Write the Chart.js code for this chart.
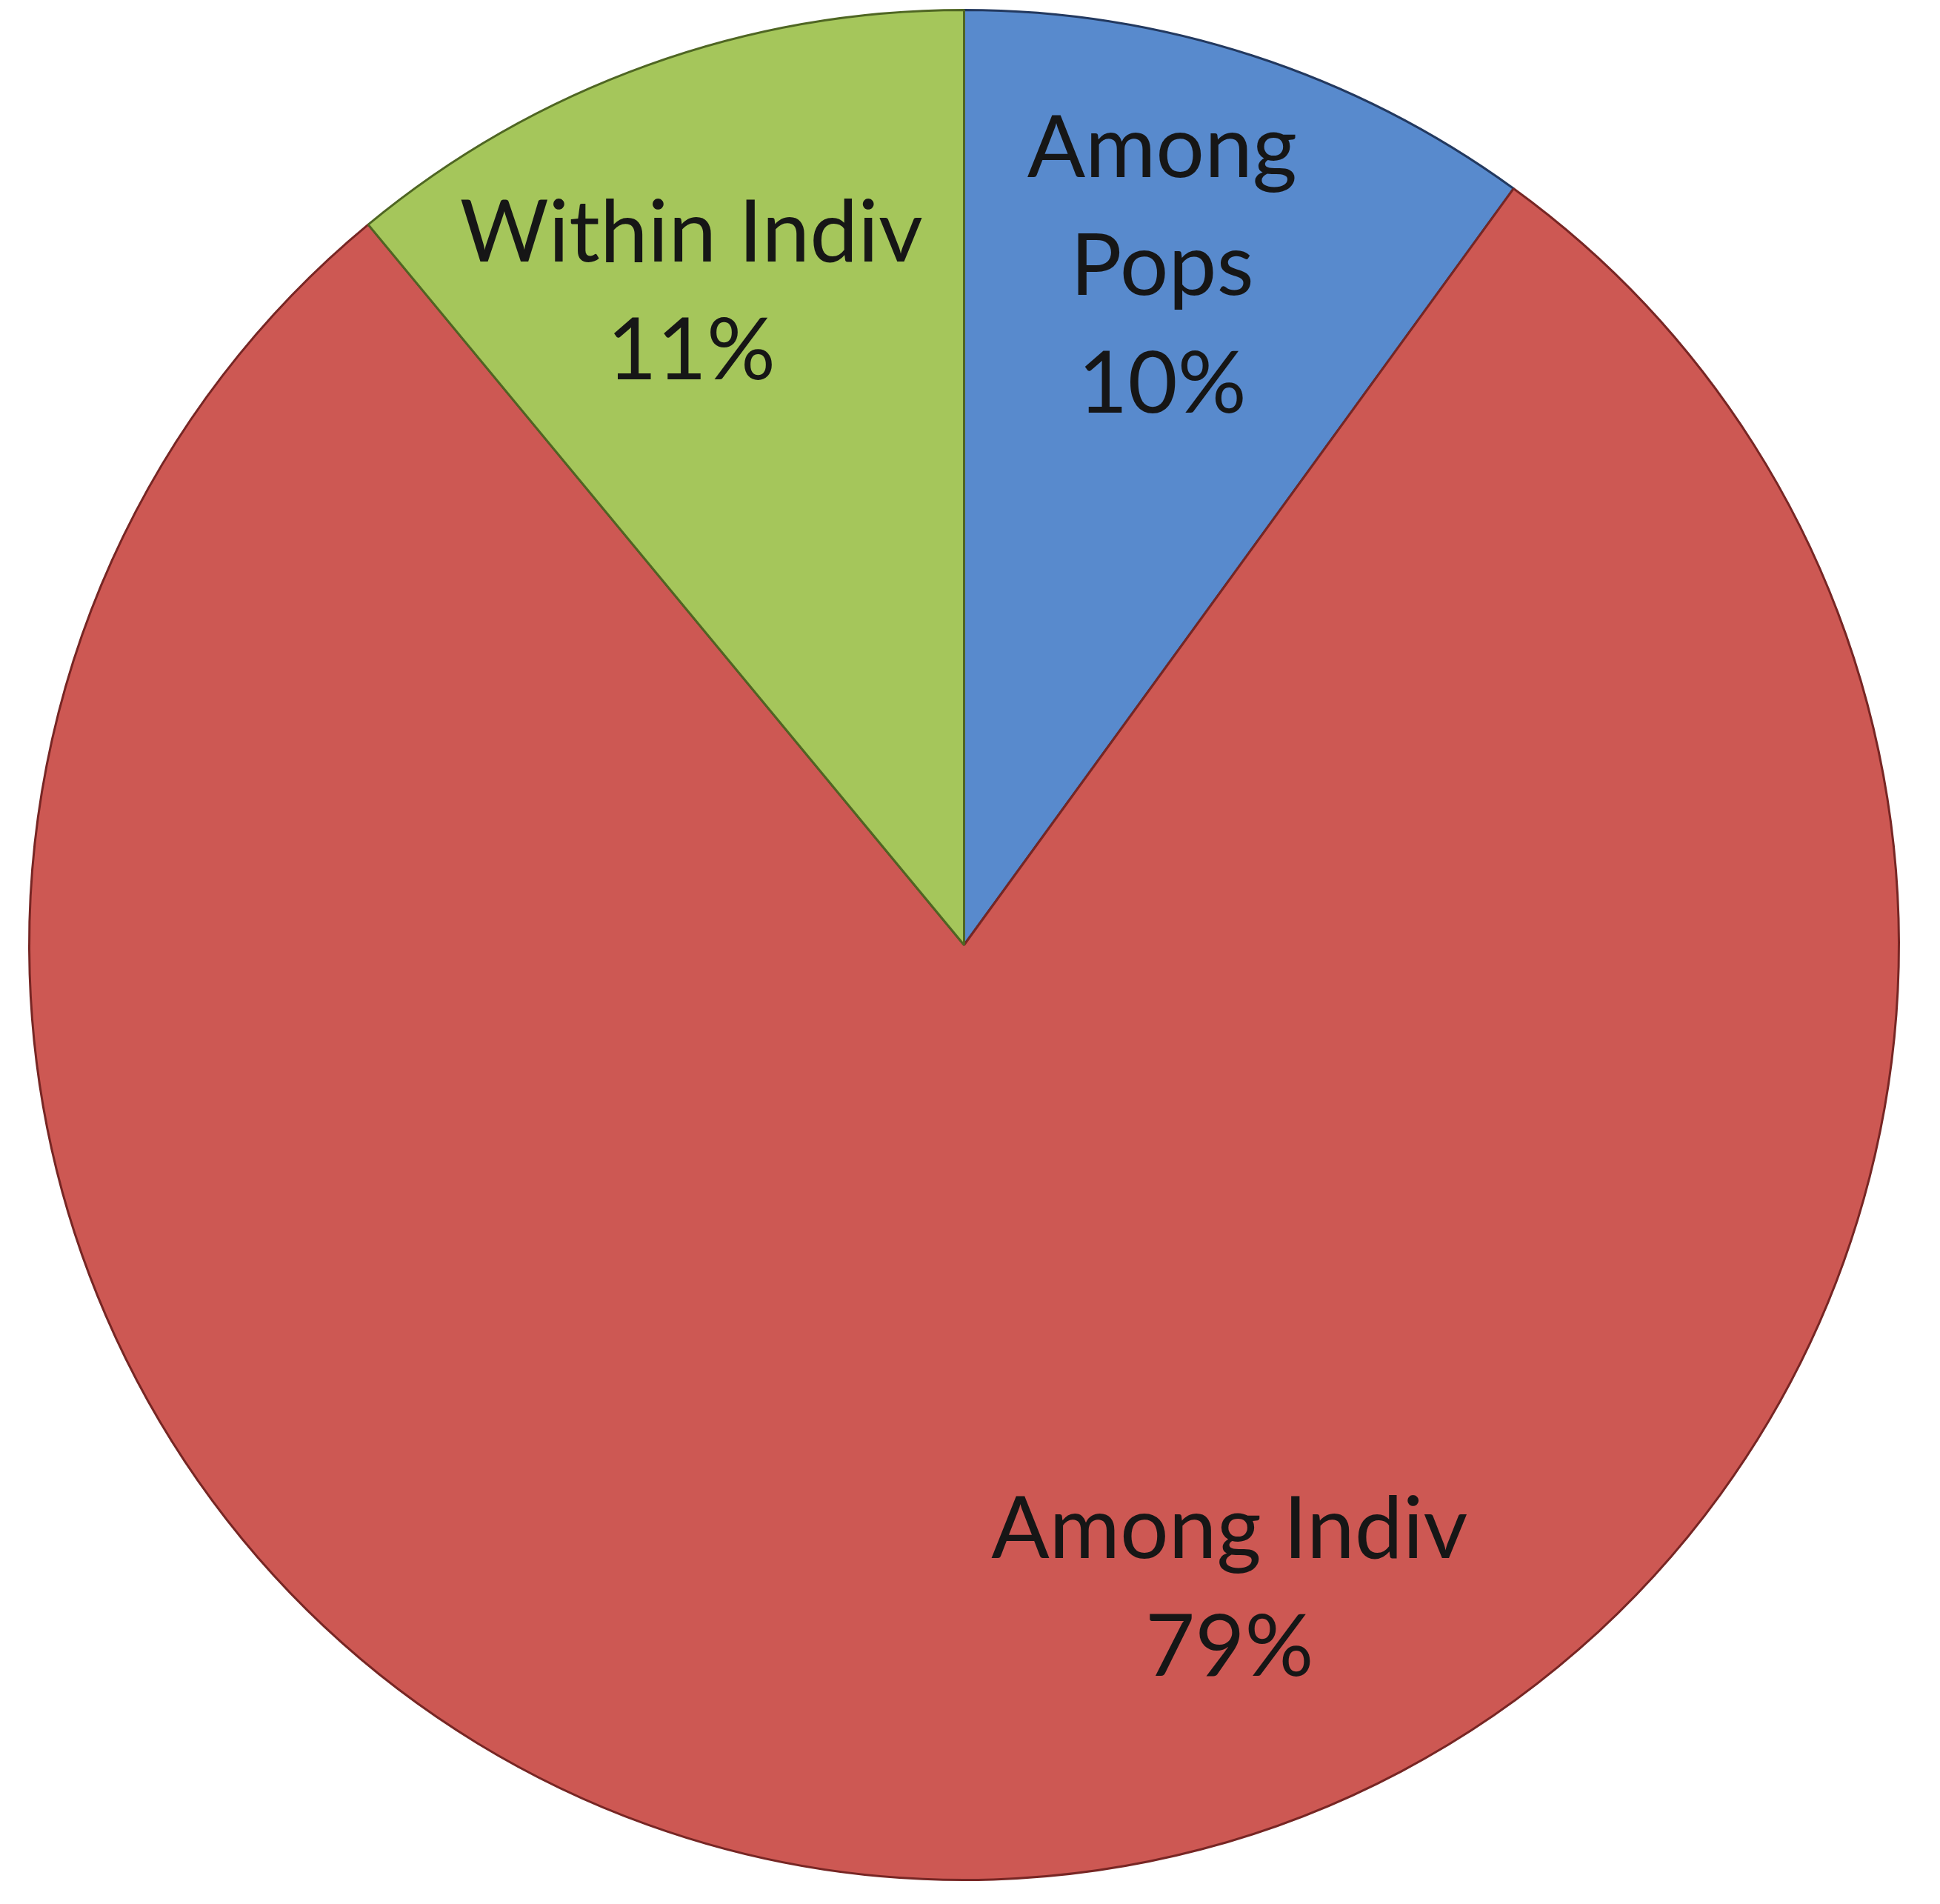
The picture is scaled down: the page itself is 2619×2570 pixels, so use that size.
<!DOCTYPE html>
<html>
<head>
<meta charset="utf-8">
<title>Variance components</title>
<script src="https://cdn.jsdelivr.net/npm/chart.js@4.4.1/dist/chart.umd.min.js"></script>
<style>
    html, body { margin: 0; padding: 0; background: #ffffff; }
    canvas { display: block; }
</style>
</head>
<body>
<canvas id="myChart" width="2619" height="2570"></canvas>
<script>
// slice data, clockwise from 12 o'clock
const categories = [['Among', 'Pops'], 'Among Indiv', 'Within Indiv'];
const percents = [10, 79, 11];
const sliceColors = ['#588acd', '#cd5853', '#a5c65b'];
const edgeColors = ['#23395f', '#772624', '#4f6623'];

// draws the "name / NN%" text inside each slice
const sliceLabels = {
    id: 'sliceLabels',
    afterDatasetsDraw(chart, args, opts) {
        const ctx = chart.ctx;
        const meta = chart.getDatasetMeta(0);
        const total = percents.reduce((a, b) => a + b, 0);
        ctx.save();
        ctx.font = opts.size + 'px ' + opts.family;
        ctx.fillStyle = opts.color;
        ctx.textAlign = 'center';
        ctx.textBaseline = 'middle';
        meta.data.forEach((arc, i) => {
            const p = arc.getProps(['x', 'y', 'startAngle', 'endAngle', 'outerRadius'], true);
            const place = opts.place[i];
            const mid = (p.startAngle + p.endAngle) / 2 + place.shift * Math.PI / 180;
            const r = p.outerRadius * place.dist;
            const cx = p.x + Math.cos(mid) * r;
            const cy = p.y + Math.sin(mid) * r;
            const name = categories[i];
            const lines = (Array.isArray(name) ? name.slice() : [name]);
            lines.push(Math.round(percents[i] / total * 100) + '%');
            const top = cy - (lines.length - 1) * opts.lineHeight / 2;
            lines.forEach((t, k) => ctx.fillText(t, cx, top + k * opts.lineHeight));
        });
        ctx.restore();
    }
};

const ctx = document.getElementById('myChart').getContext('2d');
new Chart(ctx, {
    type: 'pie',
    data: {
        labels: categories,
        datasets: [{
            data: percents,
            backgroundColor: sliceColors,
            borderColor: edgeColors,
            borderWidth: 3
        }]
    },
    options: {
        responsive: false,
        animation: false,
        devicePixelRatio: 1,
        layout: {
            padding: { left: 38, right: 54, top: 12, bottom: 31 }
        },
        plugins: {
            legend: { display: false },
            tooltip: { enabled: false },
            sliceLabels: {
                family: 'Lato, "Open Sans", sans-serif',
                size: 116,
                lineHeight: 159,
                color: '#161616',
                place: [
                    { shift: -1.7, dist: 0.755 },
                    { shift: -20.6, dist: 0.745 },
                    { shift: -2.9, dist: 0.756 }
                ]
            }
        }
    },
    plugins: [sliceLabels]
});
</script>
</body>
</html>
